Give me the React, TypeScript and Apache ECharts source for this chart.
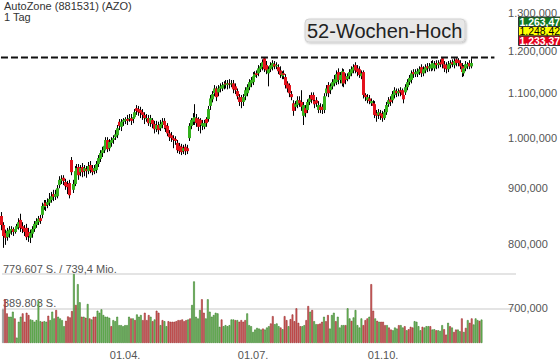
import React, { useEffect, useRef } from 'react';
import * as echarts from 'echarts';

const TITLE = 'AutoZone (881531) (AZO)';
const PERIOD = '1 Tag';
const HIGH_LABEL = '52-Wochen-Hoch';
const TURNOVER = '739,4 Mio.';

const START_DATE = [2019, 0, 3];
const N_SLOTS = 261;
const X_TICK_LABELS = ['01.04.', '01.07.', '01.10.'];
const PRICE_TICKS = [700, 800, 900, 1000, 1100, 1200, 1300];
const PRICE_MIN = 650;
const PRICE_MAX = 1337;
const HIGH_LINE_END = 255;

const QUOTES = [
  { text: '1.263,47', bg: '#127a23', fg: '#ffffff', weight: 'bold' },
  { text: '1.248,42', bg: '#ffff00', fg: '#000000', weight: 'normal' },
  { text: '1.233,37', bg: '#e4001b', fg: '#ffffff', weight: 'bold' },
];

const OPEN = [
  849, 833, 819, 812, 818, 823, 826, 821, 826, 829,
  842, 831, 828, 828, 821, 811, 818, 826, 833, 838,
  845, 851, 865, 873, 869, 873, 878, 889, 884, 885,
  906, 914, 920, 912, 908, 910, 955, 897, 908, 931,
  941, 931, 941, 933, 937, 933, 945, 939, 933, 935,
  947, 957, 969, 975, 982, 996, 979, 990, 996, 1002,
  1006, 1035, 1024, 1035, 1037, 1041, 1041, 1043, 1041, 1045,
  1065, 1063, 1061, 1056, 1050, 1041, 1043, 1032, 1039, 1030,
  1019, 1028, 1021, 1028, 1037, 1028, 1026, 1010, 1006, 1000,
  998, 990, 984, 982, 973, 982, 979, 1000, 1026, 1037,
  1035, 1043, 1041, 1039, 1026, 1024, 1041, 1041, 1070, 1085,
  1099, 1110, 1101, 1110, 1110, 1118, 1122, 1118, 1122, 1120,
  1122, 1115, 1104, 1090, 1090, 1079, 1092, 1099, 1113, 1122,
  1125, 1137, 1146, 1146, 1156, 1161, 1183, 1166, 1146, 1156,
  1161, 1168, 1163, 1161, 1153, 1139, 1146, 1137, 1122, 1118,
  1097, 1076, 1068, 1072, 1083, 1079, 1048, 1065, 1061, 1079,
  1095, 1095, 1081, 1083, 1061, 1068, 1068, 1061, 1099, 1118,
  1106, 1115, 1122, 1125, 1149, 1130, 1122, 1149, 1139, 1132,
  1139, 1146, 1153, 1166, 1158, 1156, 1139, 1149, 1095, 1083,
  1087, 1076, 1076, 1074, 1054, 1050, 1054, 1052, 1043, 1056,
  1074, 1085, 1083, 1095, 1104, 1099, 1106, 1106, 1095, 1101,
  1113, 1125, 1130, 1149, 1144, 1144, 1149, 1161, 1146, 1153,
  1163, 1158, 1158, 1161, 1158, 1171, 1166, 1173, 1183, 1168,
  1166, 1156, 1166, 1173, 1166, 1180, 1178, 1171, 1163, 1146,
  1158, 1163, 1171, 1163,
];

const CLOSE = [
  833, 814, 811, 823, 825, 826, 821, 826, 831, 838,
  828, 826, 821, 812, 814, 819, 826, 835, 840, 844,
  840, 867, 871, 867, 874, 880, 885, 884, 889, 900,
  916, 918, 914, 904, 902, 887, 931, 908, 933, 939,
  925, 939, 931, 939, 933, 943, 935, 931, 939, 947,
  959, 969, 975, 984, 996, 977, 992, 996, 1000, 1008,
  1021, 1026, 1035, 1039, 1041, 1037, 1043, 1037, 1045, 1056,
  1059, 1056, 1054, 1050, 1043, 1043, 1032, 1043, 1030, 1019,
  1028, 1017, 1030, 1035, 1028, 1021, 1010, 1002, 1000, 996,
  994, 975, 973, 971, 979, 973, 973, 1026, 1039, 1043,
  1045, 1032, 1024, 1028, 1032, 1032, 1032, 1063, 1087, 1097,
  1110, 1090, 1110, 1115, 1118, 1120, 1120, 1122, 1120, 1122,
  1108, 1106, 1092, 1079, 1079, 1090, 1106, 1113, 1125, 1130,
  1139, 1144, 1142, 1158, 1163, 1173, 1156, 1153, 1156, 1166,
  1171, 1163, 1166, 1151, 1142, 1146, 1142, 1118, 1110, 1099,
  1090, 1059, 1074, 1083, 1076, 1068, 1072, 1054, 1079, 1087,
  1085, 1083, 1074, 1076, 1072, 1061, 1061, 1092, 1110, 1099,
  1115, 1125, 1132, 1144, 1130, 1142, 1151, 1122, 1130, 1139,
  1149, 1156, 1161, 1153, 1149, 1142, 1146, 1095, 1090, 1090,
  1081, 1081, 1070, 1050, 1048, 1056, 1048, 1043, 1056, 1072,
  1083, 1079, 1097, 1106, 1099, 1104, 1101, 1095, 1085, 1113,
  1125, 1135, 1146, 1144, 1149, 1151, 1156, 1146, 1156, 1161,
  1158, 1163, 1168, 1171, 1168, 1166, 1171, 1168, 1168, 1158,
  1156, 1168, 1171, 1168, 1176, 1171, 1171, 1163, 1149, 1158,
  1168, 1168, 1163, 1171,
];

const LOW = [
  824, 794, 799, 806, 811, 816, 814, 818, 821, 825,
  821, 819, 814, 807, 804, 802, 811, 821, 828, 833,
  835, 845, 860, 858, 863, 867, 873, 876, 878, 881,
  900, 908, 906, 897, 889, 881, 925, 891, 904, 923,
  916, 923, 921, 923, 920, 927, 929, 925, 927, 929,
  941, 951, 961, 969, 975, 971, 973, 982, 988, 996,
  1000, 1017, 1015, 1026, 1030, 1028, 1035, 1028, 1032, 1041,
  1050, 1048, 1043, 1039, 1030, 1035, 1026, 1024, 1021, 1010,
  1013, 1008, 1015, 1021, 1019, 1013, 1004, 994, 992, 979,
  986, 969, 967, 965, 967, 965, 967, 994, 1019, 1028,
  1028, 1024, 1015, 1010, 1017, 1019, 1024, 1035, 1061, 1078,
  1092, 1081, 1092, 1101, 1104, 1108, 1110, 1108, 1110, 1113,
  1099, 1097, 1085, 1070, 1065, 1070, 1083, 1092, 1106, 1113,
  1118, 1130, 1135, 1139, 1149, 1153, 1149, 1144, 1115, 1149,
  1153, 1156, 1156, 1144, 1135, 1132, 1132, 1110, 1101, 1090,
  1083, 1048, 1059, 1065, 1068, 1059, 1028, 1045, 1054, 1072,
  1076, 1074, 1065, 1068, 1054, 1054, 1052, 1054, 1092, 1090,
  1097, 1108, 1115, 1118, 1120, 1122, 1115, 1113, 1120, 1127,
  1132, 1139, 1146, 1146, 1139, 1135, 1132, 1087, 1081, 1076,
  1074, 1070, 1063, 1043, 1035, 1041, 1039, 1035, 1039, 1050,
  1068, 1070, 1076, 1087, 1090, 1092, 1092, 1087, 1076, 1095,
  1106, 1118, 1122, 1135, 1137, 1137, 1142, 1137, 1139, 1146,
  1149, 1151, 1151, 1153, 1151, 1156, 1158, 1161, 1158, 1149,
  1146, 1149, 1158, 1161, 1158, 1163, 1163, 1156, 1137, 1139,
  1151, 1156, 1156, 1158,
];

const HIGH = [
  856, 838, 825, 828, 831, 831, 829, 829, 835, 845,
  853, 838, 833, 835, 828, 825, 831, 840, 845, 849,
  851, 873, 878, 878, 881, 891, 893, 897, 897, 906,
  923, 925, 925, 918, 914, 916, 961, 916, 943, 947,
  947, 945, 949, 945, 943, 951, 953, 945, 945, 953,
  965, 975, 982, 990, 1002, 1002, 998, 1002, 1006, 1017,
  1028, 1041, 1041, 1043, 1045, 1050, 1052, 1052, 1054, 1063,
  1072, 1070, 1068, 1063, 1056, 1052, 1050, 1050, 1043, 1037,
  1037, 1035, 1039, 1043, 1043, 1035, 1032, 1017, 1013, 1006,
  1004, 996, 990, 988, 986, 988, 986, 1032, 1043, 1054,
  1074, 1052, 1045, 1043, 1039, 1039, 1045, 1070, 1095, 1104,
  1118, 1115, 1118, 1122, 1125, 1127, 1130, 1130, 1132, 1130,
  1130, 1122, 1110, 1097, 1095, 1097, 1113, 1120, 1132, 1137,
  1149, 1151, 1153, 1166, 1171, 1180, 1185, 1176, 1163, 1173,
  1178, 1176, 1173, 1168, 1163, 1151, 1153, 1144, 1127, 1122,
  1104, 1083, 1081, 1092, 1092, 1106, 1079, 1072, 1085, 1095,
  1101, 1101, 1087, 1090, 1081, 1076, 1074, 1099, 1118, 1125,
  1122, 1132, 1142, 1153, 1158, 1149, 1158, 1156, 1146, 1146,
  1156, 1163, 1168, 1173, 1166, 1163, 1153, 1153, 1099, 1097,
  1095, 1087, 1083, 1081, 1061, 1063, 1061, 1059, 1063, 1079,
  1090, 1092, 1104, 1113, 1110, 1110, 1113, 1110, 1101, 1120,
  1132, 1142, 1153, 1156, 1156, 1158, 1163, 1168, 1163, 1168,
  1171, 1171, 1176, 1178, 1176, 1178, 1178, 1180, 1185, 1176,
  1173, 1176, 1178, 1180, 1183, 1183, 1183, 1178, 1171, 1166,
  1176, 1173, 1178, 1183,
];

// volume in thousand shares
const VOLUME_K = [
  380, 494, 335, 297, 297, 354, 278, 61, 240, 297,
  335, 240, 342, 316, 266, 259, 240, 259, 479, 247,
  240, 247, 240, 308, 259, 354, 278, 373, 297, 278,
  259, 190, 251, 300, 290, 361, 779.607,
  430, 665, 460, 297, 297, 285, 441, 278, 266, 297,
  297, 365, 342, 380, 316, 297, 297, 285, 190, 259,
  247, 297, 202, 202, 190, 202, 202, 297, 278, 278,
  260,
  323, 297, 316, 259, 342, 259, 316, 297, 247, 266,
  365, 342, 202, 259, 247, 190, 247, 240, 240, 240,
  247, 259, 259, 266, 247, 259, 266, 278, 430, 696,
  297, 278, 373, 494, 342, 278, 494, 354, 297, 316,
  342, 335, 183, 266, 190, 202, 190, 202, 266, 266,
  259, 259, 240, 259, 240, 259, 335, 202, 190, 125,
  152, 171, 163, 152, 163, 152, 175, 190, 221, 304,
  213, 221, 190,
  175, 156, 304, 259, 190, 270, 323, 247, 392, 228,
  190, 190, 202, 259, 418, 354, 373, 247, 213, 213,
  220,
  240, 297, 247, 316, 163, 316, 342, 247, 297, 175,
  202, 202, 202, 392, 278,
  250,
  289, 373, 202, 175, 278,
  202, 259, 278, 297, 665,
  365, 278, 251, 240, 240,
  240, 202, 202, 175, 152, 144, 175, 163, 202, 202,
  175, 190, 144, 156, 183, 175, 247, 240, 190, 144,
  183, 175, 190, 190, 190, 152, 156, 144, 144, 137,
  202, 156, 95, 228, 190, 175, 125, 152, 152, 133,
  278, 125, 171, 259, 228, 278, 209, 278, 259, 250,
  265,
];

const FONT = '"Liberation Sans", Arial, Helvetica, sans-serif';
const CANDLE_UP = '#35b21e';
const CANDLE_DOWN = '#e3121c';
const VOL_UP = { fill: '#7cc86a', border: '#357a27' };
const VOL_DOWN = { fill: '#dc6262', border: '#952a2a' };
const VOL_FIRST = { fill: '#b8b8b8', border: '#808080' };

function fmtDE(v: number, dec: number): string {
  const s = v.toFixed(dec);
  const parts = s.split('.');
  const ip = parts[0].replace(/\B(?=(\d{3})+(?!\d))/g, '.');
  return parts[1] ? ip + ',' + parts[1] : ip;
}

function buildDates(): string[] {
  const out: string[] = [];
  const d = new Date(START_DATE[0], START_DATE[1], START_DATE[2]);
  while (out.length < N_SLOTS) {
    const wd = d.getDay();
    if (wd !== 0 && wd !== 6) {
      const dd = String(d.getDate()).padStart(2, '0');
      const mm = String(d.getMonth() + 1).padStart(2, '0');
      out.push(dd + '.' + mm + '.');
    }
    d.setDate(d.getDate() + 1);
  }
  return out;
}

export default function App() {
  const ref = useRef<HTMLDivElement>(null);

  useEffect(() => {
    if (!ref.current) return;
    const chart = echarts.init(ref.current, undefined, { renderer: 'svg' });
    const dates = buildDates();
    const n = Math.min(OPEN.length, CLOSE.length, LOW.length, HIGH.length, VOLUME_K.length);
    const candles: number[][] = [];
    for (let i = 0; i < n; i++) candles.push([i, OPEN[i], CLOSE[i], LOW[i], HIGH[i]]);
    const maxHigh = Math.max(...HIGH.slice(0, n));
    const vols = VOLUME_K.slice(0, n).map((v) => Math.round(v * 1000));
    const volMax = Math.max(...vols);
    const volData = vols.map((v, i) => {
      const col = i === 0 ? VOL_FIRST : CLOSE[i] >= CLOSE[i - 1] ? VOL_UP : VOL_DOWN;
      return { value: v, itemStyle: { color: col.fill, borderColor: col.border, borderWidth: 0.6 } };
    });

    const quoteGraphics: any[] = [];
    QUOTES.forEach((q, k) => {
      const y = 17 + k * 9.5;
      quoteGraphics.push({
        type: 'rect', z: 100,
        shape: { x: 518.5, y, width: 50, height: 9.5 },
        style: { fill: q.bg, stroke: '#333', lineWidth: 1 },
      });
      quoteGraphics.push({
        type: 'text', z: 101, x: 519.5, y: y + 5,
        style: { text: q.text, fill: q.fg, fontSize: 10.4, fontWeight: q.weight, fontFamily: FONT, verticalAlign: 'middle', align: 'left' },
      });
    });

    const candleGeom = (api: any) => {
      const idx = api.value(0);
      const o = api.value(1), c = api.value(2), l = api.value(3), h = api.value(4);
      const pO = api.coord([idx, o]);
      const pC = api.coord([idx, c]);
      const pL = api.coord([idx, l]);
      const pH = api.coord([idx, h]);
      return { cx: Math.round(pO[0]), o, c, pO, pC, pL, pH };
    };

    chart.setOption({
      animation: false,
      backgroundColor: '#ffffff',
      textStyle: { fontFamily: FONT },
      grid: [
        { left: 0, right: 44, top: 0, bottom: 20 },
        { left: 0, right: 44, top: 274, bottom: 20 },
      ],
      xAxis: [
        { type: 'category', gridIndex: 0, data: dates, show: false, boundaryGap: true },
        {
          type: 'category', gridIndex: 1, data: dates, boundaryGap: true,
          axisLine: { show: false }, axisTick: { show: false }, splitLine: { show: false },
          axisLabel: {
            interval: (_i: number, v: string) => X_TICK_LABELS.includes(v),
            color: '#555', fontSize: 11, fontFamily: FONT, margin: 6,
          },
        },
      ],
      yAxis: [
        {
          type: 'log', logBase: 10, gridIndex: 0, position: 'right',
          min: PRICE_MIN, max: PRICE_MAX,
          axisLine: { show: false }, axisTick: { show: false }, splitLine: { show: false },
          axisLabel: {
            customValues: PRICE_TICKS,
            formatter: (v: number) => fmtDE(v, 3),
            color: '#555', fontSize: 11, fontFamily: FONT, margin: 3, align: 'left',
          },
        },
        {
          type: 'value', gridIndex: 1, position: 'left', min: 0, max: volMax, interval: volMax / 2,
          axisLine: { show: false }, axisTick: { show: false },
          splitLine: { show: true, showMinLine: false, lineStyle: { color: '#e4e4e4', width: 2 } },
          axisLabel: {
            inside: true, margin: 1, verticalAlign: 'bottom', showMinLabel: false,
            color: '#555', fontSize: 11, fontFamily: FONT,
            formatter: (v: number) => {
              if (v <= 0) return '';
              const s = fmtDE(Math.floor(v), 0) + ' S.';
              return v >= volMax - 1 ? s + ' / ' + TURNOVER : s;
            },
          },
        },
      ],
      series: [
        {
          type: 'bar', xAxisIndex: 1, yAxisIndex: 1, data: volData,
          barCategoryGap: '10%', silent: true, z: 2,
        },
        {
          type: 'custom', xAxisIndex: 0, yAxisIndex: 0, data: candles, z: 3, silent: true,
          encode: { x: 0, y: [1, 2, 3, 4] },
          renderItem: (_p: any, api: any) => {
            const g = candleGeom(api);
            return {
              type: 'line',
              shape: { x1: g.cx + 0.5, y1: g.pH[1], x2: g.cx + 0.5, y2: g.pL[1] },
              style: { stroke: '#000', lineWidth: 1 },
            };
          },
        },
        {
          type: 'custom', xAxisIndex: 0, yAxisIndex: 0, data: candles, z: 4, silent: true,
          encode: { x: 0, y: [1, 2, 3, 4] },
          renderItem: (_p: any, api: any) => {
            const g = candleGeom(api);
            const top = Math.min(g.pO[1], g.pC[1]);
            const bot = Math.max(g.pO[1], g.pC[1]);
            return {
              type: 'rect',
              shape: { x: g.cx - 1, y: top, width: 3, height: Math.max(1, bot - top) },
              style: { fill: g.c >= g.o ? CANDLE_UP : CANDLE_DOWN },
            };
          },
        },
        {
          type: 'line', xAxisIndex: 0, yAxisIndex: 0, z: 5, silent: true,
          data: [[0, maxHigh], [HIGH_LINE_END, maxHigh]],
          symbol: 'none',
          lineStyle: { color: '#111', width: 2, type: [7, 3] },
        },
      ],
      graphic: [
        {
          type: 'text', z: 100, x: 4, y: 5.5,
          style: { text: TITLE, fill: '#333', fontSize: 11, lineHeight: 10, fontFamily: FONT, verticalAlign: 'middle' },
        },
        {
          type: 'text', z: 100, x: 4, y: 16.5,
          style: { text: PERIOD, fill: '#333', fontSize: 11, lineHeight: 10, fontFamily: FONT, verticalAlign: 'middle' },
        },
        {
          type: 'rect', z: 100,
          shape: { x: 305, y: 19, width: 160, height: 23, r: 4 },
          style: { fill: '#e8e8e8', stroke: '#d2d2d2', lineWidth: 1, shadowBlur: 2, shadowColor: 'rgba(0,0,0,0.25)', shadowOffsetX: 1, shadowOffsetY: 1 },
        },
        {
          type: 'text', z: 101, x: 307, y: 31,
          style: { text: HIGH_LABEL, fill: '#222', fontSize: 20, fontFamily: FONT, verticalAlign: 'middle' },
        },
        ...quoteGraphics,
      ],
    });

    return () => chart.dispose();
  }, []);

  return (
    <div
      ref={ref}
      style={{ position: 'fixed', left: 0, top: 0, width: 560, height: 363, background: '#fff' }}
    />
  );
}
